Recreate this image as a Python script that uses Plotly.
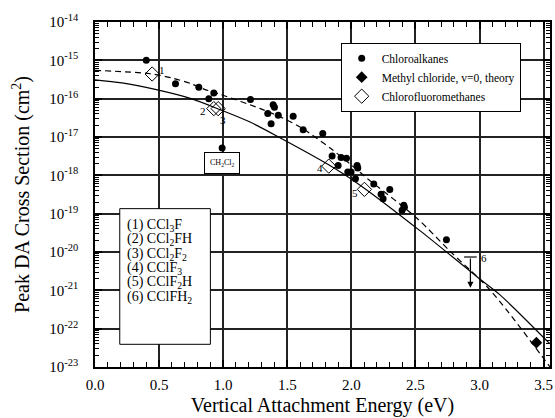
import plotly.graph_objects as go
import math

# ---------------- data ----------------
# Chloroalkanes (filled circles)
chloro_x = [0.40, 0.628, 0.81, 0.888, 0.927, 0.992, 1.213, 1.348, 1.374, 1.39, 1.40,
            1.43, 1.546, 1.624, 1.777, 1.85, 1.897, 1.92, 1.962, 1.972, 1.998, 2.032,
            2.045, 2.05, 2.175, 2.232, 2.248, 2.30, 2.396, 2.409, 2.414, 2.742]
chloro_y = [1.0e-15, 2.45e-16, 2.0e-16, 1.0e-16, 1.4e-16, 5.2e-18, 9.5e-17, 4.1e-17,
            2.2e-17, 6.9e-17, 6.0e-17, 3.7e-17, 3.5e-17, 1.55e-17, 1.23e-17, 3.2e-18,
            1.8e-18, 2.9e-18, 2.8e-18, 1.23e-18, 1.23e-18, 8.1e-19, 1.8e-18, 1.55e-18,
            5.9e-19, 3.2e-19, 2.45e-19, 4.3e-19, 1.23e-19, 1.66e-19, 1.48e-19, 2.1e-20]

# Methyl chloride, v=0, theory (filled diamond)
methyl_x = [3.444]
methyl_y = [4.3e-23]

# Chlorofluoromethanes (open diamonds), compounds 1-5
cfm_x = [0.446, 0.927, 0.961, 1.824, 2.102]
cfm_y = [4.4e-16, 5.5e-17, 5.5e-17, 1.74e-18, 4.3e-19]

# Compound 6: upper limit (bar with downward arrow)
limit6_x = 2.929
limit6_top = 7.4e-21
limit6_bottom = 1.17e-21

# Solid curve
solid_x = [0.0, 0.21, 0.47, 0.75, 0.98, 1.21, 1.45, 1.81, 2.06, 2.54, 3.0, 3.16, 3.55]
solid_y = [3.1e-16, 2.57e-16, 1.74e-16, 1.0e-16, 5.1e-17, 2.45e-17, 9.3e-18, 2.0e-18,
           5.8e-19, 3.5e-20, 2.0e-21, 7.6e-22, 4.0e-23]

# Dashed curve
dashed_x = [0.0, 0.43, 0.60, 0.75, 0.85, 0.98, 1.29, 1.45, 1.60, 1.84, 2.05, 2.12,
            2.51, 2.77, 3.085, 3.55]
dashed_y = [5.5e-16, 4.47e-16, 3.47e-16, 2.45e-16, 1.78e-16, 1.29e-16, 5.5e-17,
            3.3e-17, 1.82e-17, 5.0e-18, 1.35e-18, 8.5e-19, 7.7e-20, 1.05e-20,
            1.0e-21, 1.0e-23]

# Point labels (text, x, log10 y)
point_labels = ["1", "2", "3", "4", "5", "6"]
label_x = [0.519, 0.841, 0.995, 1.754, 2.032, 3.038]
label_logy = [-15.26, -16.32, -16.55, -17.81, -18.46, -20.15]

# Compound list box
compound_lines = ["(1) CCl<sub>3</sub>F", "(2) CCl<sub>2</sub>FH",
                  "(3) CCl<sub>2</sub>F<sub>2</sub>", "(4) CClF<sub>3</sub>",
                  "(5) CClF<sub>2</sub>H", "(6) CClFH<sub>2</sub>"]

# Axis ticks
y_exponents = list(range(-23, -13))
x_ticks = [0.0, 0.5, 1.0, 1.5, 2.0, 2.5, 3.0, 3.5]

FONT = "Liberation Serif"

fig = go.Figure()

fig.add_trace(go.Scatter(x=solid_x, y=solid_y, mode="lines",
                         line=dict(color="black", width=1.2, shape="spline", smoothing=0.8),
                         showlegend=False, hoverinfo="skip"))
fig.add_trace(go.Scatter(x=dashed_x, y=dashed_y, mode="lines",
                         line=dict(color="black", width=1.2, dash="6px,4px", shape="spline", smoothing=0.8),
                         showlegend=False, hoverinfo="skip"))

fig.add_trace(go.Scatter(x=chloro_x, y=chloro_y, mode="markers", name="Chloroalkanes",
                         marker=dict(symbol="circle", size=7, color="black")))
fig.add_trace(go.Scatter(x=methyl_x, y=methyl_y, mode="markers", name="Methyl chloride, v=0, theory",
                         marker=dict(symbol="diamond", size=9, color="black")))
fig.add_trace(go.Scatter(x=cfm_x, y=cfm_y, mode="markers", name="Chlorofluoromethanes",
                         marker=dict(symbol="diamond-open", size=11, color="black",
                                     line=dict(width=1, color="black"))))

# cap of the upper-limit bar
fig.add_trace(go.Scatter(x=[limit6_x], y=[limit6_top], mode="markers", showlegend=False,
                         marker=dict(symbol="line-ew", size=9, color="black",
                                     line=dict(width=1.2, color="black"))))

annotations = []
annotations.append(dict(x=limit6_x, y=math.log10(limit6_bottom), ax=limit6_x, ay=math.log10(limit6_top),
                        xref="x", yref="y", axref="x", ayref="y", text="", showarrow=True,
                        arrowhead=2, arrowsize=1, arrowwidth=1.2, arrowcolor="black"))
for t, lx, ly in zip(point_labels, label_x, label_logy):
    annotations.append(dict(x=lx, y=ly, xref="x", yref="y", text=t, showarrow=False,
                            font=dict(family=FONT, size=11, color="black")))
annotations.append(dict(x=0.99, y=-17.69, xref="x", yref="y", text="CH<sub>2</sub>Cl<sub>2</sub>",
                        showarrow=False, font=dict(family=FONT, size=8, color="black"),
                        bordercolor="black", borderwidth=1, borderpad=5, bgcolor="white"))
line_py = [0.4107, 0.3690, 0.3272, 0.2855, 0.2438, 0.2020]
for txt, py in zip(compound_lines, line_py):
    annotations.append(dict(x=0.066, y=py, xref="paper", yref="paper", text=txt, showarrow=False,
                            xanchor="left", yanchor="middle", align="left",
                            font=dict(family=FONT, size=14, color="black")))

shapes = [dict(type="rect", xref="paper", yref="paper", x0=0.0544, x1=0.2536, y0=0.0658, y1=0.459,
               line=dict(color="black", width=1), fillcolor="white", layer="above")]

fig.update_layout(
    width=555, height=418,
    margin=dict(l=95, r=5, t=22, b=51),
    paper_bgcolor="white", plot_bgcolor="white",
    font=dict(family=FONT, color="black"),
    annotations=annotations,
    shapes=shapes,
    legend=dict(x=0.54, y=0.94, xanchor="left", yanchor="top", bordercolor="black", borderwidth=1,
                bgcolor="white", font=dict(family=FONT, size=11.5, color="black")),
)

fig.update_xaxes(
    range=[0, 3.55], tickmode="array", tickvals=x_ticks, ticktext=["%.1f" % v for v in x_ticks],
    showgrid=True, gridcolor="#222", gridwidth=1.5, zeroline=False, automargin=False,
    ticks="inside", ticklen=7, tickcolor="black", tickwidth=1.5,
    showline=True, linecolor="black", linewidth=1.5, mirror="allticks",
    minor=dict(dtick=0.1, ticks="inside", ticklen=5, tickcolor="black", tickwidth=1.2, showgrid=False),
    tickfont=dict(family=FONT, size=15, color="black"), ticklabelstandoff=3,
    title=dict(text="Vertical Attachment Energy (eV)", font=dict(family=FONT, size=20, color="black"), standoff=6),
)

fig.update_yaxes(
    type="log", range=[-23, -14], tickmode="array",
    tickvals=[10.0 ** e for e in y_exponents], ticktext=["10<sup>%d</sup>" % e for e in y_exponents],
    showgrid=True, gridcolor="#222", gridwidth=1.5, zeroline=False, automargin=False,
    ticks="inside", ticklen=7, tickcolor="black", tickwidth=1.5,
    showline=True, linecolor="black", linewidth=1.5, mirror="allticks",
    minor=dict(dtick="D1", ticks="inside", ticklen=4, tickcolor="black", tickwidth=1, showgrid=False),
    tickfont=dict(family=FONT, size=15, color="black"), ticklabelstandoff=12,
    title=dict(text="Peak DA Cross Section (cm<sup>2</sup>)", font=dict(family=FONT, size=20, color="black"), standoff=14),
)

fig.write_html("out.html",
               post_script="document.body.style.margin='0px';document.body.style.overflow='hidden';",
               config={"displayModeBar": False})
